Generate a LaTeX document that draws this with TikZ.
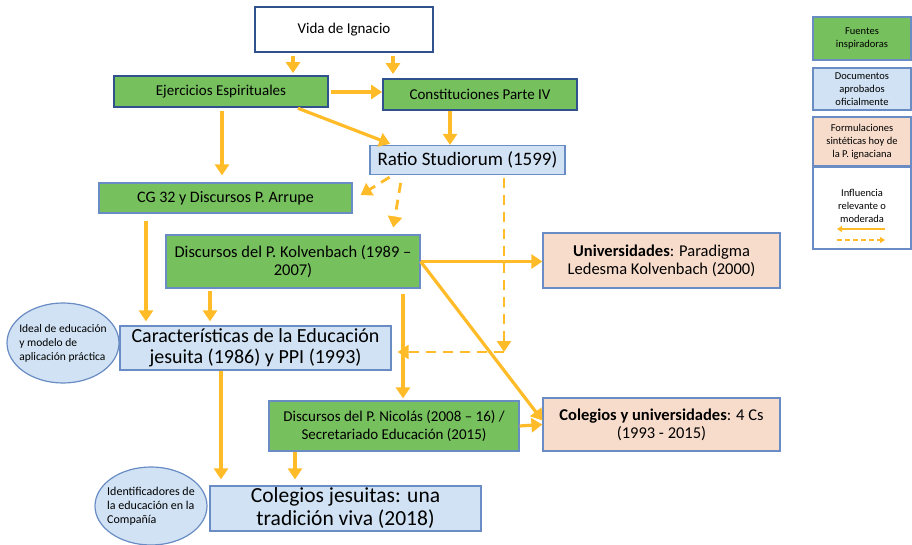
\documentclass[tikz,border=0pt]{standalone}
\usepackage{fontspec}
\setmainfont{Carlito}
\usepackage{tikz}
\usetikzlibrary{arrows.meta, shapes.geometric}

\definecolor{fuente}{RGB}{118,192,94}
\definecolor{oficial}{RGB}{208,226,243}
\definecolor{sintesis}{RGB}{248,220,203}
\definecolor{borde}{RGB}{47,82,143}
\definecolor{bordeclaro}{RGB}{105,140,196}
\definecolor{flecha}{RGB}{255,187,40}

\begin{document}
\begin{tikzpicture}[x=1pt, y=-1pt,
    every node/.style={inner sep=0pt, align=center, font=\fontsize{15}{18}\selectfont},
    caja/.style={rectangle, draw=bordeclaro, line width=1.2pt},
    verde/.style={caja, fill=fuente},
    azul/.style={caja, fill=oficial},
    rosa/.style={caja, fill=sintesis},
    nota/.style={ellipse, draw=bordeclaro, line width=1.2pt, fill=oficial, align=left,
        inner xsep=-6pt, font=\fontsize{11.5}{14}\selectfont},
    leyenda/.style={caja, minimum width=98, font=\fontsize{10.5}{13}\selectfont},
    flechita/.style={draw=flecha, line width=3.2pt, -{Triangle[length=11pt, width=14pt]}},
    punteada/.style={flechita, line width=2.8pt, dash pattern=on 10pt off 7pt}]
  \useasboundingbox (0,0) rectangle (912,545);
  % boxes
  \node[caja, fill=white, draw=borde, line width=1.6pt, minimum width=178, minimum height=45] (vida) at (344,29.5) {Vida de Ignacio};
  \node[verde, draw=borde, line width=1.8pt, minimum width=214, minimum height=31] (ejer) at (221,91.5) {Ejercicios Espirituales};
  \node[verde, draw=borde, line width=1.8pt, minimum width=194, minimum height=31] (const) at (480,94.5) {Constituciones Parte IV};
  \node[azul, minimum width=195, minimum height=29, font=\fontsize{19}{22}\selectfont] (ratio) at (467.5,160) {Ratio Studiorum (1599)};
  \node[verde, minimum width=253, minimum height=30, font=\fontsize{16}{19}\selectfont] (cg) at (225.5,198) {CG 32 y Discursos P. Arrupe};
  \node[verde, minimum width=254, minimum height=53, font=\fontsize{16.5}{18}\selectfont] (kolv) at (293,261.5) {Discursos del P. Kolvenbach (1989 --\\2007)};
  \node[azul, minimum width=271, minimum height=44, font=\fontsize{20}{21}\selectfont] (carac) at (255.5,348) {Características de la Educación\\jesuita (1986) y PPI (1993)};
  \node[verde, minimum width=250, minimum height=50] (nico) at (394,426) {Discursos del P. Nicolás (2008 -- 16) /\\Secretariado Educación (2015)};
  \node[azul, minimum width=271, minimum height=45, font=\fontsize{21.5}{23}\selectfont] (coljes) at (345.5,508.5) {Colegios jesuitas: una\\tradición viva (2018)};
  \node[rosa, minimum width=237, minimum height=55, font=\fontsize{16.5}{18}\selectfont] (univ) at (661.5,260.5) {\textbf{Universidades}: Paradigma\\Ledesma Kolvenbach (2000)};
  \node[rosa, minimum width=237, minimum height=53, font=\fontsize{16.5}{18}\selectfont] (colun) at (661.5,424.5) {\textbf{Colegios y universidades}: 4 Cs\\(1993 - 2015)};
  \node[nota, minimum width=112, minimum height=80] (ideal) at (63,343) {Ideal de educación\\y modelo de\\aplicación práctica};
  \node[nota, minimum width=112, minimum height=78, font=\fontsize{12}{14}\selectfont] (ident) at (151,506) {Identificadores de\\la educación en la\\Compañía};
  % legend
  \node[leyenda, fill=fuente, minimum height=43] (lfuente) at (862,38.5) {Fuentes\\inspiradoras};
  \node[leyenda, fill=oficial, minimum height=42] (loficial) at (862,89) {Documentos\\aprobados\\oficialmente};
  \node[leyenda, fill=sintesis, minimum height=49] (lsintesis) at (862,141.5) {Formulaciones\\sintéticas hoy de\\la P. ignaciana};
  \node[leyenda, fill=white, minimum height=82] (linfl) at (862,208) {};
  \node[font=\fontsize{10.5}{13}\selectfont] (ltexto) at (862,206) {Influencia\\relevante o\\moderada};
  \coordinate (la) at (885,229);
  \coordinate (lb) at (837,229);
  \coordinate (lc) at (837,240);
  \coordinate (ld) at (885,240);
  \draw[draw=flecha, line width=1.5pt, -{Triangle[length=5pt, width=6pt]}] (la) -- (lb);
  \draw[draw=flecha, line width=1.5pt, dash pattern=on 5pt off 3pt, -{Triangle[length=5pt, width=6pt]}] (lc) -- (ld);
  % strong influence
  \draw[flechita, shorten <=3pt, shorten >=2pt] ([xshift=-51pt]vida.south) -- ([xshift=72pt]ejer.north);
  \draw[flechita, shorten <=3pt, shorten >=4pt] ([xshift=49pt]vida.south) -- ([xshift=-87pt]const.north);
  \draw[flechita, shorten <=2pt] ([yshift=-0.5pt]ejer.east) -- ([yshift=-0.5pt]ejer.east -| const.west);
  \draw[flechita, shorten <=1pt, shorten >=3pt] ([xshift=76pt]ejer.south) -- ([xshift=-74.5pt]ratio.north);
  \draw[flechita] ([xshift=-30pt]const.south) -- ([xshift=-17.5pt]ratio.north);
  \draw[flechita, shorten <=3pt, shorten >=7pt] ([xshift=1pt]ejer.south) -- ([xshift=-3.5pt]cg.north);
  \draw[flechita, shorten <=7pt, shorten >=4pt] ([xshift=-79.5pt]cg.south) -- ([xshift=-109.5pt]carac.north);
  \draw[flechita, shorten <=2pt, shorten >=4pt] ([xshift=-83pt]kolv.south) -- ([xshift=-45.5pt]carac.north);
  \draw[flechita, shorten <=5pt, shorten >=2pt] ([xshift=110pt]kolv.south) -- ([xshift=9pt]nico.north);
  \draw[flechita] (kolv.east) -- (kolv.east -| univ.west);
  \draw[flechita] (kolv.east) -- ([yshift=4pt]colun.west);
  \draw[flechita] (nico.east) -- (colun.west);
  \draw[flechita, shorten >=6pt] ([xshift=-34.5pt]carac.south) -- ([xshift=-124.5pt]coljes.north);
  \draw[flechita, shorten >=6pt] ([xshift=-99pt]nico.south) -- ([xshift=-50.5pt]coljes.north);
  % moderate influence
  \coordinate (codo) at (504,352);
  \draw[punteada, shorten <=4pt] ([xshift=-74.5pt]ratio.south) -- ([xshift=8pt, yshift=3pt]cg.east);
  \draw[punteada, shorten <=8pt, shorten >=7pt] ([xshift=-65.5pt]ratio.south) -- ([xshift=99pt]kolv.north);
  \draw[punteada, shorten <=3pt] ([xshift=36.5pt]ratio.south) -- (codo);
  \draw[punteada, shorten >=6pt] (codo) -- (codo -| carac.east);
\end{tikzpicture}
\end{document}
